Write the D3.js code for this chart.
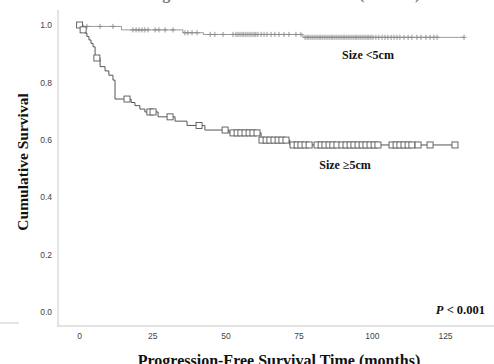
<!DOCTYPE html>
<html><head><meta charset="utf-8">
<script src="https://cdn.jsdelivr.net/npm/d3@7"></script>
<style>html,body{margin:0;padding:0;background:#fff;overflow:hidden}svg{display:block}</style>
</head><body>
<script>
// ---- data ----
const xTicks = [0, 25, 50, 75, 100, 125];
const yTicks = [0.0, 0.2, 0.4, 0.6, 0.8, 1.0];

// Size <5cm : event times (months) and survival after each event
const smallEventTimes = [1.5, 14.5, 35.5, 42.5, 76.5];
const smallEventSurv  = [0.995, 0.983, 0.973, 0.967, 0.957];
const smallCensor = [2.7, 7.2, 11.6, 18.4, 19.5, 20.5, 21.5, 22.5, 23.6, 26.0, 27.3, 29.4, 32.1,
  36.2, 37.2, 38.6, 40.3, 44.8, 46.4, 49.2, 52.6, 53.6, 54.3, 55.0, 55.7, 56.3, 57.0, 57.7, 58.4,
  59.1, 59.8, 60.4, 61.1, 62.2, 63.2, 64.2, 65.6, 66.9, 68.3, 70.0, 71.7, 74.1, 75.8,
  77.2, 77.9, 78.5, 79.2, 79.9, 80.6, 81.3, 82.0, 82.6, 83.3, 84.0, 84.7, 85.4, 86.1, 86.7, 87.4,
  88.1, 88.8, 89.5, 90.2, 90.8, 91.5, 92.2, 92.9, 93.6, 94.3, 94.9, 95.6, 96.3, 97.0, 97.7, 98.4,
  99.0, 99.7, 100.4, 101.4, 102.4, 103.5, 104.5, 105.5, 106.6, 107.6, 108.6, 109.6, 111.0, 112.4,
  113.7, 115.4, 116.8, 118.5, 119.9, 121.2, 122.3, 131.5];

// Size >=5cm
const largeEventTimes = [0.7, 2.0, 2.7, 3.4, 4.1, 4.8, 5.5, 7.2, 8.9, 10.2, 11.6, 12.3, 17.8, 19.1,
  20.8, 22.5, 27.0, 32.8, 36.9, 43.0, 51.2, 62.2, 72.0];
const largeEventSurv  = [0.983, 0.972, 0.960, 0.948, 0.936, 0.924, 0.885, 0.855, 0.840, 0.825, 0.808,
  0.742, 0.730, 0.719, 0.707, 0.697, 0.680, 0.665, 0.650, 0.634, 0.624, 0.599, 0.582];
const largeCensor = [0.2, 1.4, 6.1, 16.4, 24.2, 25.3, 31.1, 41.0, 49.9, 52.6, 54.0, 55.3, 56.7, 58.1,
  59.4, 60.8, 62.5, 63.9, 65.2, 66.6, 68.0, 69.3, 70.7, 73.1, 74.5, 75.8, 77.2, 78.6, 81.3, 82.7,
  84.0, 85.4, 86.7, 88.1, 89.8, 91.2, 92.6, 93.9, 95.3, 96.7, 98.0, 99.4, 100.8, 102.1, 106.9,
  108.3, 109.6, 111.0, 112.4, 113.7, 115.8, 119.9, 128.4];

const titleText = "Progression-Free Survival Time (months)";
const yTitle = "Cumulative Survival";

// ---- drawing ----
const W = 494, H = 364;
const svg = d3.select("body").append("svg").attr("width", W).attr("height", H);
const x = d3.scaleLinear().domain([0, 125]).range([79, 445]);
const y = d3.scaleLinear().domain([0, 1]).range([312, 25]);

// frame lines
svg.append("line").attr("x1", 58).attr("x2", 58).attr("y1", 10).attr("y2", 326)
  .attr("stroke", "#c8c8c8").attr("stroke-width", 1);
svg.append("line").attr("x1", 57).attr("x2", W).attr("y1", 326).attr("y2", 326)
  .attr("stroke", "#c8c8c8").attr("stroke-width", 1);
svg.append("line").attr("x1", 0).attr("x2", 19).attr("y1", 323).attr("y2", 323)
  .attr("stroke", "#c8c8c8").attr("stroke-width", 1);

// axes (labels only)
const yAxis = d3.axisLeft(y).tickValues(yTicks).tickFormat(d3.format(".1f")).tickSize(0).tickPadding(0);
const gy = svg.append("g").attr("transform", "translate(52,0)").call(yAxis);
gy.select(".domain").remove();
gy.selectAll("text").attr("font-family", "Liberation Sans, Arial, sans-serif").attr("font-size", 8.5).attr("fill", "#444");

const xAxis = d3.axisBottom(x).tickValues(xTicks).tickSize(0).tickPadding(0);
const gx = svg.append("g").attr("transform", "translate(0,333)").call(xAxis);
gx.select(".domain").remove();
gx.selectAll("text").attr("font-family", "Liberation Sans, Arial, sans-serif").attr("font-size", 8.5).attr("fill", "#444");

function survAt(times, surv, t) {
  let s = 1;
  for (let i = 0; i < times.length; i++) if (times[i] <= t) s = surv[i];
  return s;
}
function stepPoints(times, surv, censor) {
  const pts = [[0, 1]];
  times.forEach((t, i) => pts.push([t, surv[i]]));
  const tEnd = d3.max(censor);
  pts.push([tEnd, survAt(times, surv, tEnd)]);
  return pts;
}
const line = d3.line().x(d => x(d[0])).y(d => y(d[1])).curve(d3.curveStepAfter);

// <5cm
svg.append("path").datum(stepPoints(smallEventTimes, smallEventSurv, smallCensor))
  .attr("d", line).attr("fill", "none").attr("stroke", "#9a9a9a").attr("stroke-width", 1);
const plus = svg.append("g").attr("stroke", "#8a8a8a").attr("stroke-width", 0.9);
smallCensor.forEach(t => {
  const cx = x(t), cy = y(survAt(smallEventTimes, smallEventSurv, t));
  plus.append("line").attr("x1", cx).attr("x2", cx).attr("y1", cy - 2.6).attr("y2", cy + 2.6);
  plus.append("line").attr("x1", cx - 2.6).attr("x2", cx + 2.6).attr("y1", cy).attr("y2", cy);
});

// >=5cm
svg.append("path").datum(stepPoints(largeEventTimes, largeEventSurv, largeCensor))
  .attr("d", line).attr("fill", "none").attr("stroke", "#555").attr("stroke-width", 1);
svg.append("g").selectAll("rect").data(largeCensor).join("rect")
  .attr("x", d => x(d) - 3).attr("y", d => y(survAt(largeEventTimes, largeEventSurv, d)) - 3)
  .attr("width", 6).attr("height", 6)
  .attr("fill", "#fff").attr("stroke", "#555").attr("stroke-width", 0.9);

// texts
const serif = "Liberation Serif, Times New Roman, serif";
svg.append("text").attr("x", 279).attr("y", -1).attr("text-anchor", "middle")
  .attr("font-family", serif).attr("font-weight", "bold").attr("font-size", 16)
  .attr("fill", "#777").text(titleText);
svg.append("text").attr("x", 279).attr("y", 366).attr("text-anchor", "middle")
  .attr("font-family", serif).attr("font-weight", "bold").attr("font-size", 16)
  .attr("fill", "#111").text(titleText);
svg.append("text").attr("transform", "translate(28,162) rotate(-90)").attr("text-anchor", "middle")
  .attr("font-family", serif).attr("font-weight", "bold").attr("font-size", 15.5)
  .attr("fill", "#111").text(yTitle);

svg.append("text").attr("x", 368).attr("y", 59).attr("text-anchor", "middle")
  .attr("font-family", serif).attr("font-weight", "bold").attr("font-size", 12)
  .attr("fill", "#111").text("Size <5cm");
svg.append("text").attr("x", 345).attr("y", 169).attr("text-anchor", "middle")
  .attr("font-family", serif).attr("font-weight", "bold").attr("font-size", 12)
  .attr("fill", "#111").text("Size ≥5cm");
const p = svg.append("text").attr("x", 485).attr("y", 314).attr("text-anchor", "end")
  .attr("font-family", serif).attr("font-weight", "bold").attr("font-size", 12.5).attr("fill", "#111");
p.append("tspan").attr("font-style", "italic").text("P");
p.append("tspan").text(" < 0.001");
</script>
</body></html>
